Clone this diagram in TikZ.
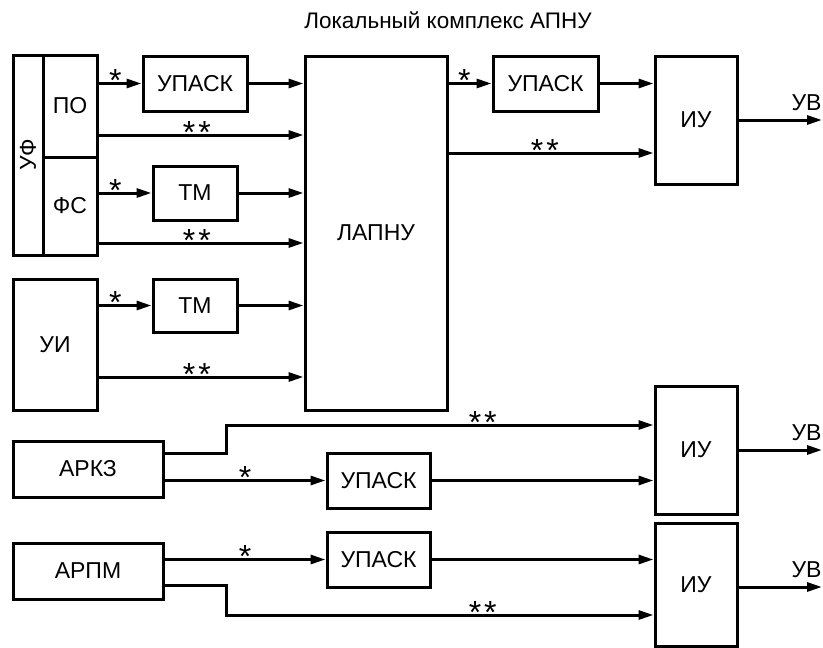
\documentclass[tikz,border=0pt]{standalone}
\usepackage{fontspec}
\setmainfont{Liberation Sans}
\usetikzlibrary{positioning}
\usetikzlibrary{arrows.meta}

\newcommand{\twostar}{*\kern3pt*}

\begin{document}
\begin{tikzpicture}[x=1pt,y=-1pt,->,>={Triangle[length=15pt,width=9pt]},
	line width=3pt,
	blk/.style={draw,rectangle,line width=3pt,inner sep=0pt,font=\fontsize{23}{27}\selectfont},
	lbl/.style={draw=none,anchor=base,yshift=-8pt,inner sep=0pt,font=\fontsize{32}{32}\selectfont},
	uv/.style={draw=none,anchor=south east,inner sep=0pt,yshift=8pt,xshift=1pt,font=\fontsize{23}{27}\selectfont}]
	
	\path[use as bounding box] (0,0) rectangle (823,648);
	
	\node[font=\fontsize{22.5}{27}\selectfont,anchor=base] (title) at (448,28.5) {Локальный комплекс АПНУ};
	
	% sources
	\node[blk, rotate=90, minimum width=200pt, minimum height=30pt] (uf) at (28,155) {УФ};
	\node[blk, minimum width=54pt, minimum height=102pt] (po) at (70,106) {ПО};
	\node[blk, minimum width=54pt, minimum height=98pt] (fs) at (70,206) {ФС};
	\node[blk, minimum width=84pt, minimum height=131pt] (ui) at (55,344.5) {УИ};
	\node[blk, minimum width=150pt, minimum height=56pt] (arkz) at (88,469) {АРКЗ};
	\node[blk, minimum width=150pt, minimum height=56pt] (arpm) at (88,571) {АРПМ};
	
	% channels
	\node[blk, minimum width=104pt, minimum height=55pt] (upask1) at (195,83.5) {УПАСК};
	\node[blk, minimum width=84pt, minimum height=54pt] (tm1) at (195,193) {ТМ};
	\node[blk, minimum width=84pt, minimum height=53pt] (tm2) at (195,305.5) {ТМ};
	\node[blk, minimum width=142pt, minimum height=354pt] (lapnu) at (376,233) {ЛАПНУ};
	\node[blk, minimum width=105pt, minimum height=55pt] (upask2) at (545.5,83.5) {УПАСК};
	\node[blk, minimum width=103pt, minimum height=55pt] (upask3) at (378.5,480.5) {УПАСК};
	\node[blk, minimum width=103pt, minimum height=55pt] (upask4) at (378.5,559.5) {УПАСК};
	
	% executive devices
	\node[blk, minimum width=82pt, minimum height=128pt] (iu1) at (696,120) {ИУ};
	\node[blk, minimum width=82pt, minimum height=128pt] (iu2) at (696,450) {ИУ};
	\node[blk, minimum width=82pt, minimum height=123pt] (iu3) at (696,584.5) {ИУ};
	
	\coordinate (uv1) at (822,120);
	\coordinate (uv2) at (822,450);
	\coordinate (uv3) at (822,587);
	
	\path
	(po.east |- upask1) edge node[lbl,pos=0.39] {*} (upask1)
	(upask1) edge (lapnu.west |- upask1)
	(po.east |- 0,135) edge node[lbl,pos=0.48] {\twostar} (lapnu.west |- 0,135)
	(fs.east |- tm1) edge node[lbl,pos=0.32] {*} (tm1)
	(tm1) edge (lapnu.west |- tm1)
	(fs.east |- 0,243) edge node[lbl,pos=0.48] {\twostar} (lapnu.west |- 0,243)
	(ui.east |- tm2) edge node[lbl,pos=0.32] {*} (tm2)
	(tm2) edge (lapnu.west |- tm2)
	(ui.east |- 0,377) edge node[lbl,pos=0.48] {\twostar} (lapnu.west |- 0,377)
	(lapnu.east |- upask2) edge node[lbl,pos=0.37] {*} (upask2)
	(upask2) edge (iu1.west |- upask2)
	(lapnu.east |- 0,153) edge node[lbl,pos=0.47] {\twostar} (iu1.west |- 0,153)
	(iu1.east |- uv1) edge node[uv,pos=1] {УВ} (uv1)
	(arkz.east |- upask3) edge node[lbl,pos=0.5] {*} (upask3)
	(upask3) edge (iu2.west |- upask3)
	(iu2.east |- uv2) edge node[uv,pos=1] {УВ} (uv2)
	(arpm.east |- upask4) edge node[lbl,pos=0.5] {*} (upask4)
	(upask4) edge (iu3.west |- upask4)
	(iu3.east |- uv3) edge node[uv,pos=1] {УВ} (uv3);
	
	\draw (arkz.east |- 0,453) -- ++(62,0) |- node[lbl,pos=0.8] {\twostar} (iu2.west |- 0,425);
	\draw (arpm.east |- 0,585) -- ++(62,0) |- node[lbl,pos=0.8] {\twostar} (iu3.west |- 0,615);
\end{tikzpicture}
\end{document}
